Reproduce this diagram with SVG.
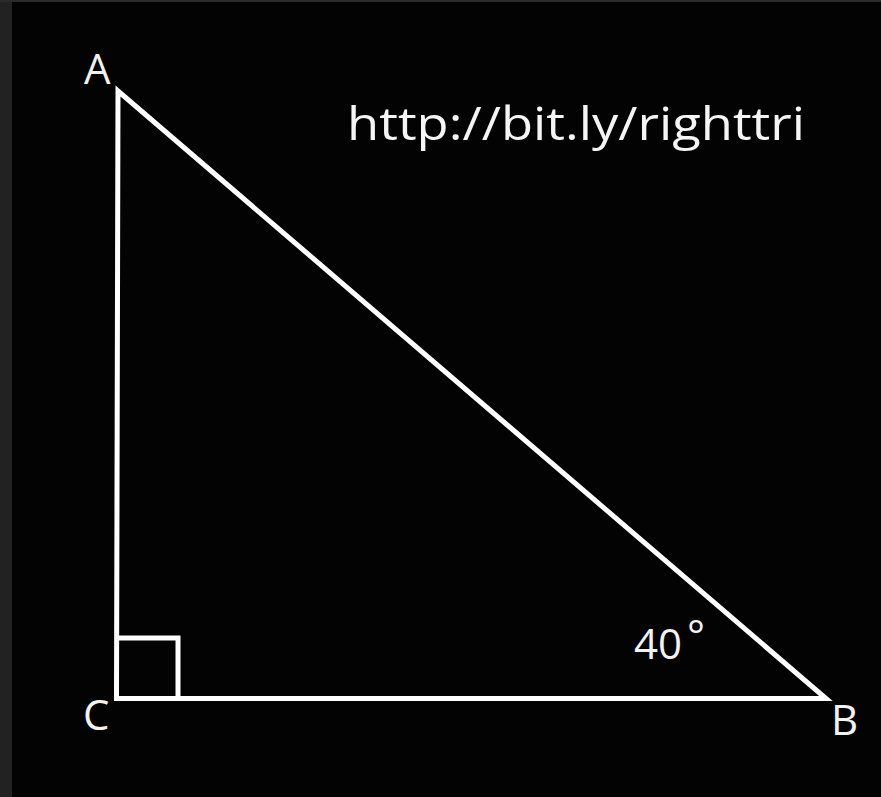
<svg xmlns="http://www.w3.org/2000/svg" width="881" height="797" viewBox="0 0 881 797">
<style>
.lbl{font-family:"Open Sans","Noto Sans","DejaVu Sans",sans-serif;fill:#f2f2f2;font-size:42px}
.url{font-family:"Open Sans","Noto Sans",sans-serif;fill:#f5f5f5;font-size:46px}
.ln{stroke:#ffffff;stroke-width:5;fill:none}
</style>
<rect x="0" y="0" width="881" height="797" fill="#030303"/>
<rect x="0" y="0" width="12" height="797" fill="#222222"/>
<rect x="0" y="0" width="881" height="2" fill="#2b2b2b"/>
<g id="connectors">
<path class="ln" d="M118,91 L116.5,698.5 L826,698.5 Z" stroke-linejoin="miter"/>
<path class="ln" d="M116.5,638 L178,638 L178,698.5"/>
</g>
<g id="A"><text class="lbl" x="84" y="84">A</text></g>
<g id="C"><text class="lbl" x="83" y="730">C</text></g>
<g id="B"><text class="lbl" x="831" y="735">B</text></g>
<g id="angle"><text class="lbl" x="634" y="659">40</text><text class="lbl" x="687" y="651" font-size="15">°</text></g>
<g id="url"><text class="url" x="347" y="140" textLength="458" lengthAdjust="spacingAndGlyphs">http://bit.ly/righttri</text></g>
</svg>
